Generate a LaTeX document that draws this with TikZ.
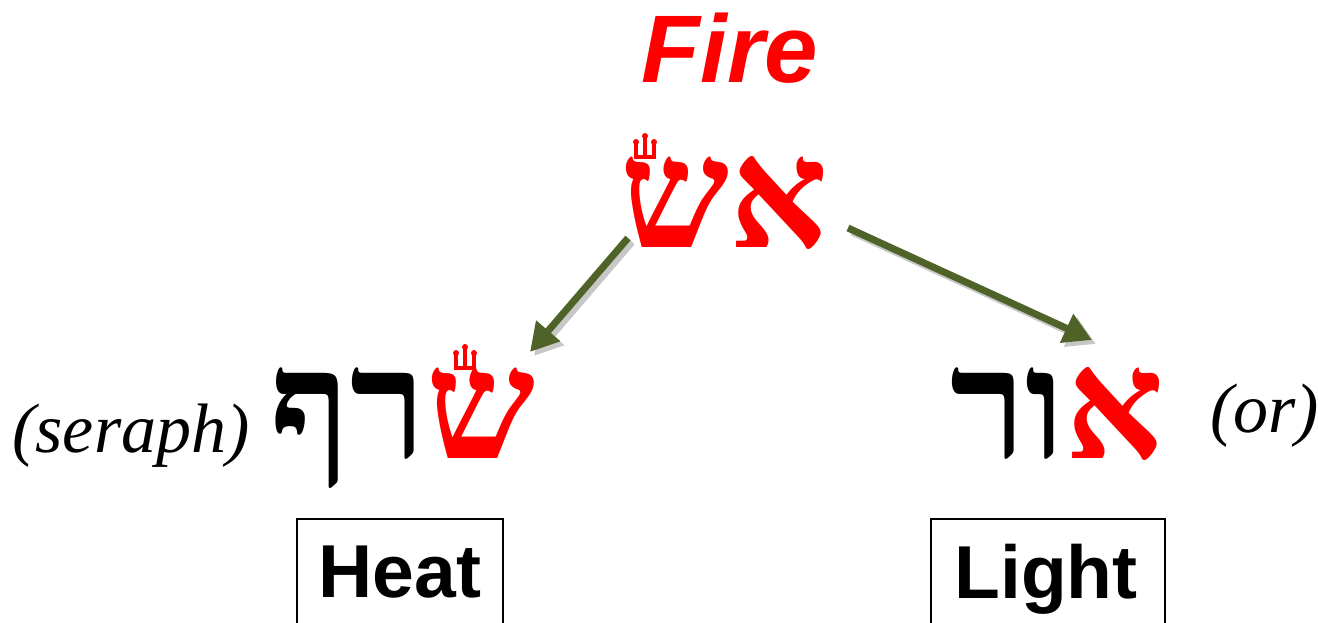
\documentclass[tikz,border=0pt]{standalone}
\usepackage{fontspec}
\setmainfont{Liberation Sans}
\newfontfamily\hebfont[Script=Hebrew]{Liberation Serif}
\newfontfamily\notefont{Liberation Serif}
\usetikzlibrary{arrows.meta,calc}
\TeXXeTstate=1
\definecolor{arrowgreen}{RGB}{79,98,40}
\tikzset{
  heb/.style={font=\hebfont\bfseries\fontsize{77}{82}\selectfont, inner sep=0pt, anchor=base},
  word/.style={font=\bfseries\fontsize{37.5}{40}\selectfont, inner sep=0pt, anchor=base},
  note/.style={font=\notefont\itshape\fontsize{35}{38}\selectfont, inner sep=0pt},
  arrow/.style={line width=3.5pt, color=arrowgreen, -{Triangle[length=14pt,width=15pt]}},
  shade/.style={line width=3.5pt, color=black!22, -{Triangle[length=14pt,width=15pt]}},
  boxed/.style={draw, line width=0.8pt}
}
% crown (tagin) over a shin, #1 = foot of the middle stem
\def\tagin(#1){\draw[red, line width=1.6pt] ($(#1)+(-9,-15)$) -- ++(0,15) -- ++(18,0) -- ++(0,-15);
  \draw[red, line width=1.6pt] (#1) -- ++(0,-21);
  \fill[red] ($(#1)+(-9,-15)$) circle (3) ($(#1)+(9,-15)$) circle (3) ($(#1)+(0,-21)$) circle (3);}

\begin{document}
\begin{tikzpicture}[x=0.5pt, y=-0.5pt]
			%%%%% START %%%%%
			
			\clip (0, 0) rectangle (1318, 622);
			\fill[white] (0, 0) rectangle (1318, 622);
			
			\node[font=\bfseries\itshape\fontsize{48}{52}\selectfont, color=red, inner sep=0pt, anchor=base] (fire) at (730, 82) {Fire};
			
			\node[heb] (esh) at (724, 247) {\color{red}\beginR אש\endR};
			\node[heb] (seraph) at (403, 458) {\beginR רף\endR{\color{red}\beginR ש\endR}};
			\node[heb] (or) at (1057, 458) {\beginR ור\endR{\color{red}\beginR א\endR}};
			
			\tagin(645, 157)
			\tagin(465, 368)
			
			\node[note, anchor=base east] (seraphlbl) at (250, 452) {(seraph)};
			\node[note, anchor=base west] (orlbl) at (1210, 432) {(or)};
			
			\node[word] (heat) at (400, 597) {Heat};
			\node[word] (light) at (1046, 598) {Light};
			\draw[boxed] (297, 660) |- (503, 519) -- (503, 660);
			\draw[boxed] (931, 660) |- (1165, 519) -- (1165, 660);
			
			\draw[shade] (632, 242) -- (534, 356);
			\draw[arrow] (628, 238) -- (530, 352);
			\draw[shade] (852, 232) -- (1096, 344);
			\draw[arrow] (848, 228) -- (1092, 340);
			
			%%%%% END %%%%%
		\end{tikzpicture}
\end{document}
